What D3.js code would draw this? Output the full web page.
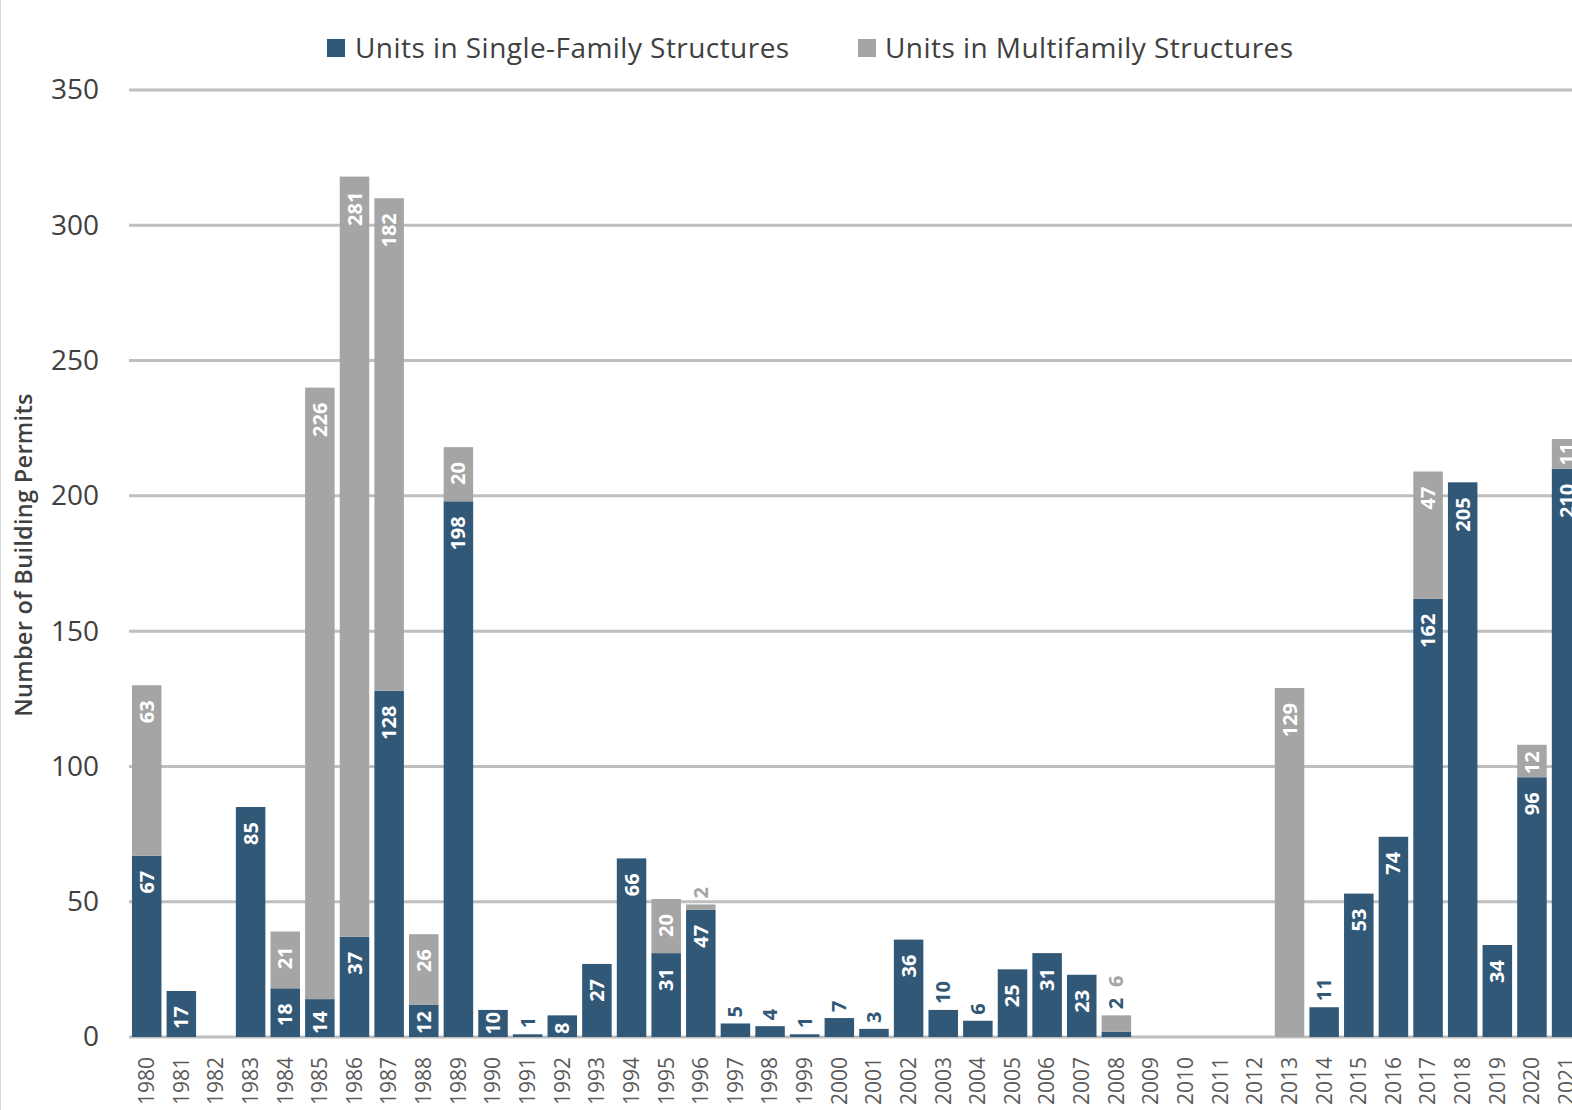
<!DOCTYPE html>
<html>
<head>
<meta charset="utf-8">
<script src="https://cdn.jsdelivr.net/npm/d3@7"></script>
<style>
  html, body { margin: 0; padding: 0; background: #fff; }
  svg { display: block; font-family: "Open Sans", "Noto Sans", sans-serif; }
</style>
</head>
<body>
<svg id="chart" width="1572" height="1110"></svg>
<script>
// Building permits by year, split by structure type
const years = d3.range(1980, 2022).map(String);
const singleFamily = [67, 17, 0, 85, 18, 14, 37, 128, 12, 198,
                      10, 1, 8, 27, 66, 31, 47, 5, 4, 1,
                      7, 3, 36, 10, 6, 25, 31, 23, 2, 0,
                      0, 0, 0, 0, 11, 53, 74, 162, 205, 34,
                      96, 210];
const multiFamily = [63, 0, 0, 0, 21, 226, 281, 182, 26, 20,
                     0, 0, 0, 0, 0, 20, 2, 0, 0, 0,
                     0, 0, 0, 0, 0, 0, 0, 0, 6, 0,
                     0, 0, 0, 129, 0, 0, 0, 47, 0, 0,
                     12, 11];
const seriesNames = ["Units in Single-Family Structures", "Units in Multifamily Structures"];
const yTicks = [0, 50, 100, 150, 200, 250, 300, 350];
// years whose value labels sit above the bar instead of inside it
const labelsAboveSingle = ["1991", "1997", "1998", "1999", "2000", "2001", "2003", "2004", "2008", "2014"];
const labelsAboveMulti = ["1996", "2008"];

const colors = ["#325878", "#A5A5A5"];
const svg = d3.select("#chart");
const W = 1572, H = 1110;

const rows = years.map((y, i) => ({ year: y, single: singleFamily[i], multi: multiFamily[i] }));
const stack = d3.stack().keys(["single", "multi"])(rows);

const x = d3.scaleBand().domain(years).range([129.4, 1583.9]).paddingInner(0.148).paddingOuter(0.074);
const y = d3.scaleLinear().domain([0, 350]).range([1037, 90]);

// left frame edge
svg.append("line").attr("x1", 0.5).attr("x2", 0.5).attr("y1", 0).attr("y2", H)
  .attr("stroke", "#d9d9d9").attr("stroke-width", 1);

// gridlines
svg.append("g").selectAll("line").data(yTicks).join("line")
  .attr("x1", 129).attr("x2", W)
  .attr("y1", d => y(d)).attr("y2", d => y(d))
  .attr("stroke", "#bfbfbf").attr("stroke-width", 3);

// y axis tick labels
const yAxis = svg.append("g").attr("transform", "translate(99,0)")
  .call(d3.axisLeft(y).tickValues(yTicks).tickSize(0).tickPadding(0));
yAxis.select(".domain").remove();
yAxis.selectAll("text").attr("font-size", 28).attr("fill", "#404040")
  .attr("font-family", "'Open Sans', sans-serif");

// y axis title
svg.append("text")
  .attr("transform", "translate(24,555) rotate(-90)")
  .attr("text-anchor", "middle").attr("dy", "0.35em")
  .attr("font-size", 23.5).attr("font-weight", 600).attr("fill", "#404040")
  .attr("letter-spacing", 0.3)
  .text("Number of Building Permits");

// stacked bars
const barG = svg.append("g");
stack.forEach((layer, li) => {
  barG.append("g").attr("fill", colors[li]).selectAll("rect")
    .data(layer.filter(d => d[1] - d[0] > 0)).join("rect")
    .attr("x", d => x(d.data.year))
    .attr("width", x.bandwidth())
    .attr("y", d => y(d[1]))
    .attr("height", d => y(d[0]) - y(d[1]));
});

// x axis labels
const xAxis = svg.append("g").attr("transform", "translate(0,1037)")
  .call(d3.axisBottom(x).tickSize(0).tickPadding(0));
xAxis.select(".domain").remove();
xAxis.selectAll("text")
  .attr("transform", "translate(0,20) rotate(-90)")
  .attr("text-anchor", "end").attr("dy", "0.35em").attr("y", 0)
  .attr("font-size", 21).attr("fill", "#595959")
  .attr("font-family", "'Open Sans', sans-serif");

// value labels
const labelG = svg.append("g").attr("font-size", 20).attr("font-weight", 700);
rows.forEach((r) => {
  const cx = x(r.year) + x.bandwidth() / 2;
  const segs = [
    { v: r.single, lo: 0, hi: r.single, above: labelsAboveSingle.includes(r.year), color: colors[0] },
    { v: r.multi, lo: r.single, hi: r.single + r.multi, above: labelsAboveMulti.includes(r.year), color: colors[1] }
  ];
  let cursor = y(r.single + r.multi) - 6;
  segs.forEach(s => {
    if (s.v <= 0) return;
    const t = labelG.append("text")
      .attr("dy", "0.35em").text(s.v);
    const len = t.node().getComputedTextLength();
    if (s.above) {
      t.attr("transform", `translate(${cx},${cursor}) rotate(-90)`)
        .attr("text-anchor", "start").attr("fill", s.color);
      cursor -= len + 11;
    } else {
      // inside end, pushed down only as far as the segment allows
      let endY = y(s.hi) + 15;
      const limit = y(s.lo) - 3 - len;
      if (endY > limit) endY = Math.max(limit, y(s.hi) + 2);
      t.attr("transform", `translate(${cx},${endY}) rotate(-90)`)
        .attr("text-anchor", "end").attr("fill", "#ffffff");
    }
  });
});

// legend
const legendItems = [{ x: 327, tx: 355 }, { x: 858, tx: 885 }];
legendItems.forEach((l, i) => {
  svg.append("rect").attr("x", l.x).attr("y", 39).attr("width", 18).attr("height", 18).attr("fill", colors[i]);
  svg.append("text").attr("x", l.tx).attr("y", 48).attr("dy", "0.35em")
    .attr("font-size", 28).attr("letter-spacing", 0.45).attr("fill", "#404040").text(seriesNames[i]);
});
</script>
</body>
</html>
